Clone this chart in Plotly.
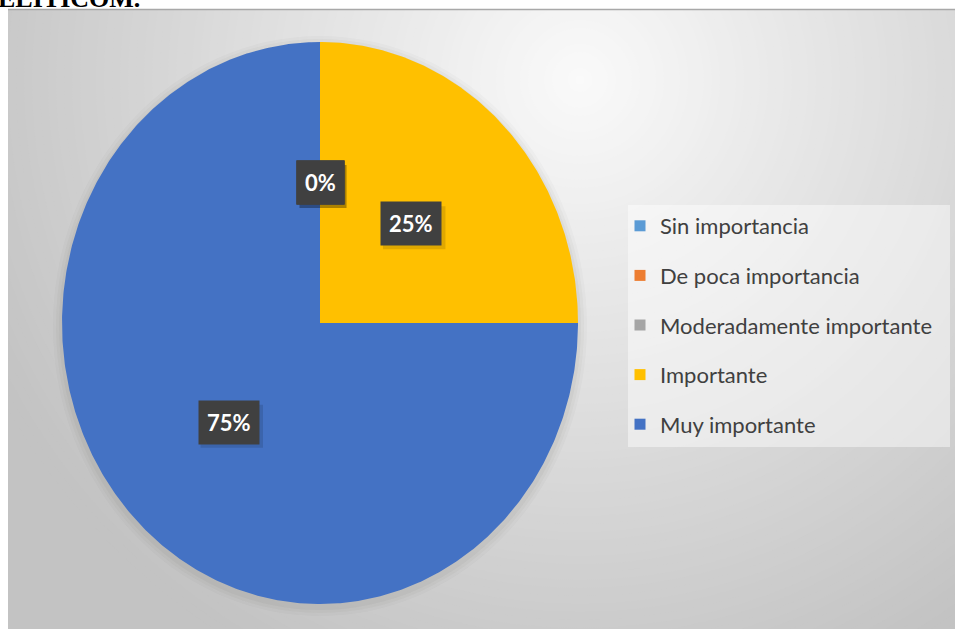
import math
import plotly.graph_objects as go

# Survey answers and their share of responses (%)
categories = ["Sin importancia", "De poca importancia", "Moderadamente importante",
              "Importante", "Muy importante"]
percentages = [0, 0, 0, 25, 75]
colors = ["#5B9BD5", "#ED7D31", "#A5A5A5", "#FFC000", "#4472C4"]
heading = "ELITICOM."

W, H = 955, 629


def px(x):
    return x / W


def py(y):
    return 1 - y / H


fig = go.Figure()

# Pie wedges: angles run clockwise from 12 o'clock, as in office charts
total = sum(percentages)
label_spots = []
start = 0.0
for name, val, col in zip(categories, percentages, colors):
    span = 360.0 * val / total
    mid = math.radians(start + span / 2)
    label_spots.append((0.5 * math.sin(mid), 0.5 * math.cos(mid), val))
    if span > 0:
        n = max(int(span * 2), 4)
        angs = [math.radians(start + span * i / n) for i in range(n + 1)]
        xs = [0.0] + [math.sin(a) for a in angs] + [0.0]
        ys = [0.0] + [math.cos(a) for a in angs] + [0.0]
        fig.add_trace(go.Scatter(x=xs, y=ys, mode="lines", fill="toself",
                                 fillcolor=col, line=dict(width=0, color=col),
                                 hoverinfo="skip", showlegend=False))
    start += span

# Legend entries
for name, col in zip(categories, colors):
    fig.add_trace(go.Scatter(x=[None], y=[None], mode="markers", name=name,
                             legendgroup=name,
                             marker=dict(symbol="square", size=11, color=col)))

shapes = []
# Radial grey background of the chart area
gx, gy = 580, 80
shapes.append(dict(type="rect", xref="paper", yref="paper", x0=0, x1=1, y0=0, y1=1,
                   fillcolor="rgb(195,195,195)", line=dict(width=0), layer="below"))
for r in range(660, 0, -8):
    c = int(round(250 - 55 * min(r / 650, 1)))
    shapes.append(dict(type="circle", xref="paper", yref="paper",
                       x0=px(gx - r), x1=px(gx + r), y0=py(gy + r), y1=py(gy - r),
                       fillcolor=f"rgb({c},{c},{c})", line=dict(width=0), layer="below"))
# White page outside the chart frame
shapes.append(dict(type="rect", xref="paper", yref="paper", x0=0, x1=px(8), y0=0, y1=1,
                   fillcolor="white", line=dict(width=0), layer="below"))
shapes.append(dict(type="rect", xref="paper", yref="paper", x0=0, x1=1, y0=py(9), y1=1,
                   fillcolor="white", line=dict(width=0), layer="below"))
shapes.append(dict(type="line", xref="paper", yref="paper", x0=px(8), x1=1,
                   y0=py(9.5), y1=py(9.5), line=dict(color="#a8a8a8", width=1.5),
                   layer="below"))
# Soft shadow around the pie
cx, cy, rx, ry = 320, 323, 258, 281
for grow, alpha in [(9, 0.025), (6, 0.03), (3, 0.04)]:
    shapes.append(dict(type="circle", xref="paper", yref="paper",
                       x0=px(cx - rx - grow), x1=px(cx + rx + grow),
                       y0=py(cy + 3 + ry + grow), y1=py(cy + 3 - ry - grow),
                       fillcolor=f"rgba(60,50,40,{alpha})", line=dict(width=0),
                       layer="below"))
# Legend panel
shapes.append(dict(type="rect", xref="paper", yref="paper",
                   x0=px(628), x1=px(950), y0=py(447), y1=py(205),
                   fillcolor="rgba(255,255,255,0.45)", line=dict(width=0),
                   layer="below"))

annotations = []
# Data labels, one per slice, drawn from the percentages with a small drop shadow
for lx, ly, val in label_spots:
    txt = f"{val}%"
    bw, bh = 16 + 15.5 * len(txt), 43
    shapes.append(dict(type="rect", xref="x", yref="y", xsizemode="pixel",
                       ysizemode="pixel", xanchor=lx, yanchor=ly,
                       x0=-bw / 2 + 3, x1=bw / 2 + 3, y0=-bh / 2 - 4, y1=bh / 2 - 4,
                       fillcolor="rgba(0,0,0,0.12)", line=dict(width=0), layer="above"))
    annotations.append(dict(x=lx, y=ly, xref="x", yref="y", text=f"<b>{txt}</b>",
                            showarrow=False,
                            font=dict(family="Lato", size=22, color="white"),
                            bgcolor="#404040", borderpad=8))

# Heading text above the chart frame
annotations.append(dict(x=px(-4), y=py(15), xref="paper", yref="paper", xanchor="left",
                        yanchor="bottom", text=f"<b>{heading}</b>", showarrow=False,
                        font=dict(family="Liberation Serif", size=26, color="black")))

fig.update_layout(
    width=W, height=H,
    margin=dict(l=0, r=0, t=0, b=0),
    paper_bgcolor="white", plot_bgcolor="rgba(0,0,0,0)",
    xaxis=dict(domain=[px(62), px(578)], range=[-1, 1], visible=False, fixedrange=True),
    yaxis=dict(domain=[py(604), py(42)], range=[-1, 1], visible=False, fixedrange=True),
    shapes=shapes,
    annotations=annotations,
    showlegend=True,
    legend=dict(x=px(620), y=py(205), xanchor="left", yanchor="top",
                bgcolor="rgba(0,0,0,0)", borderwidth=0,
                font=dict(family="Lato", size=22, color="#404040"),
                traceorder="grouped", tracegroupgap=18, itemclick=False,
                itemdoubleclick=False),
)

fig.write_html("out.html")
